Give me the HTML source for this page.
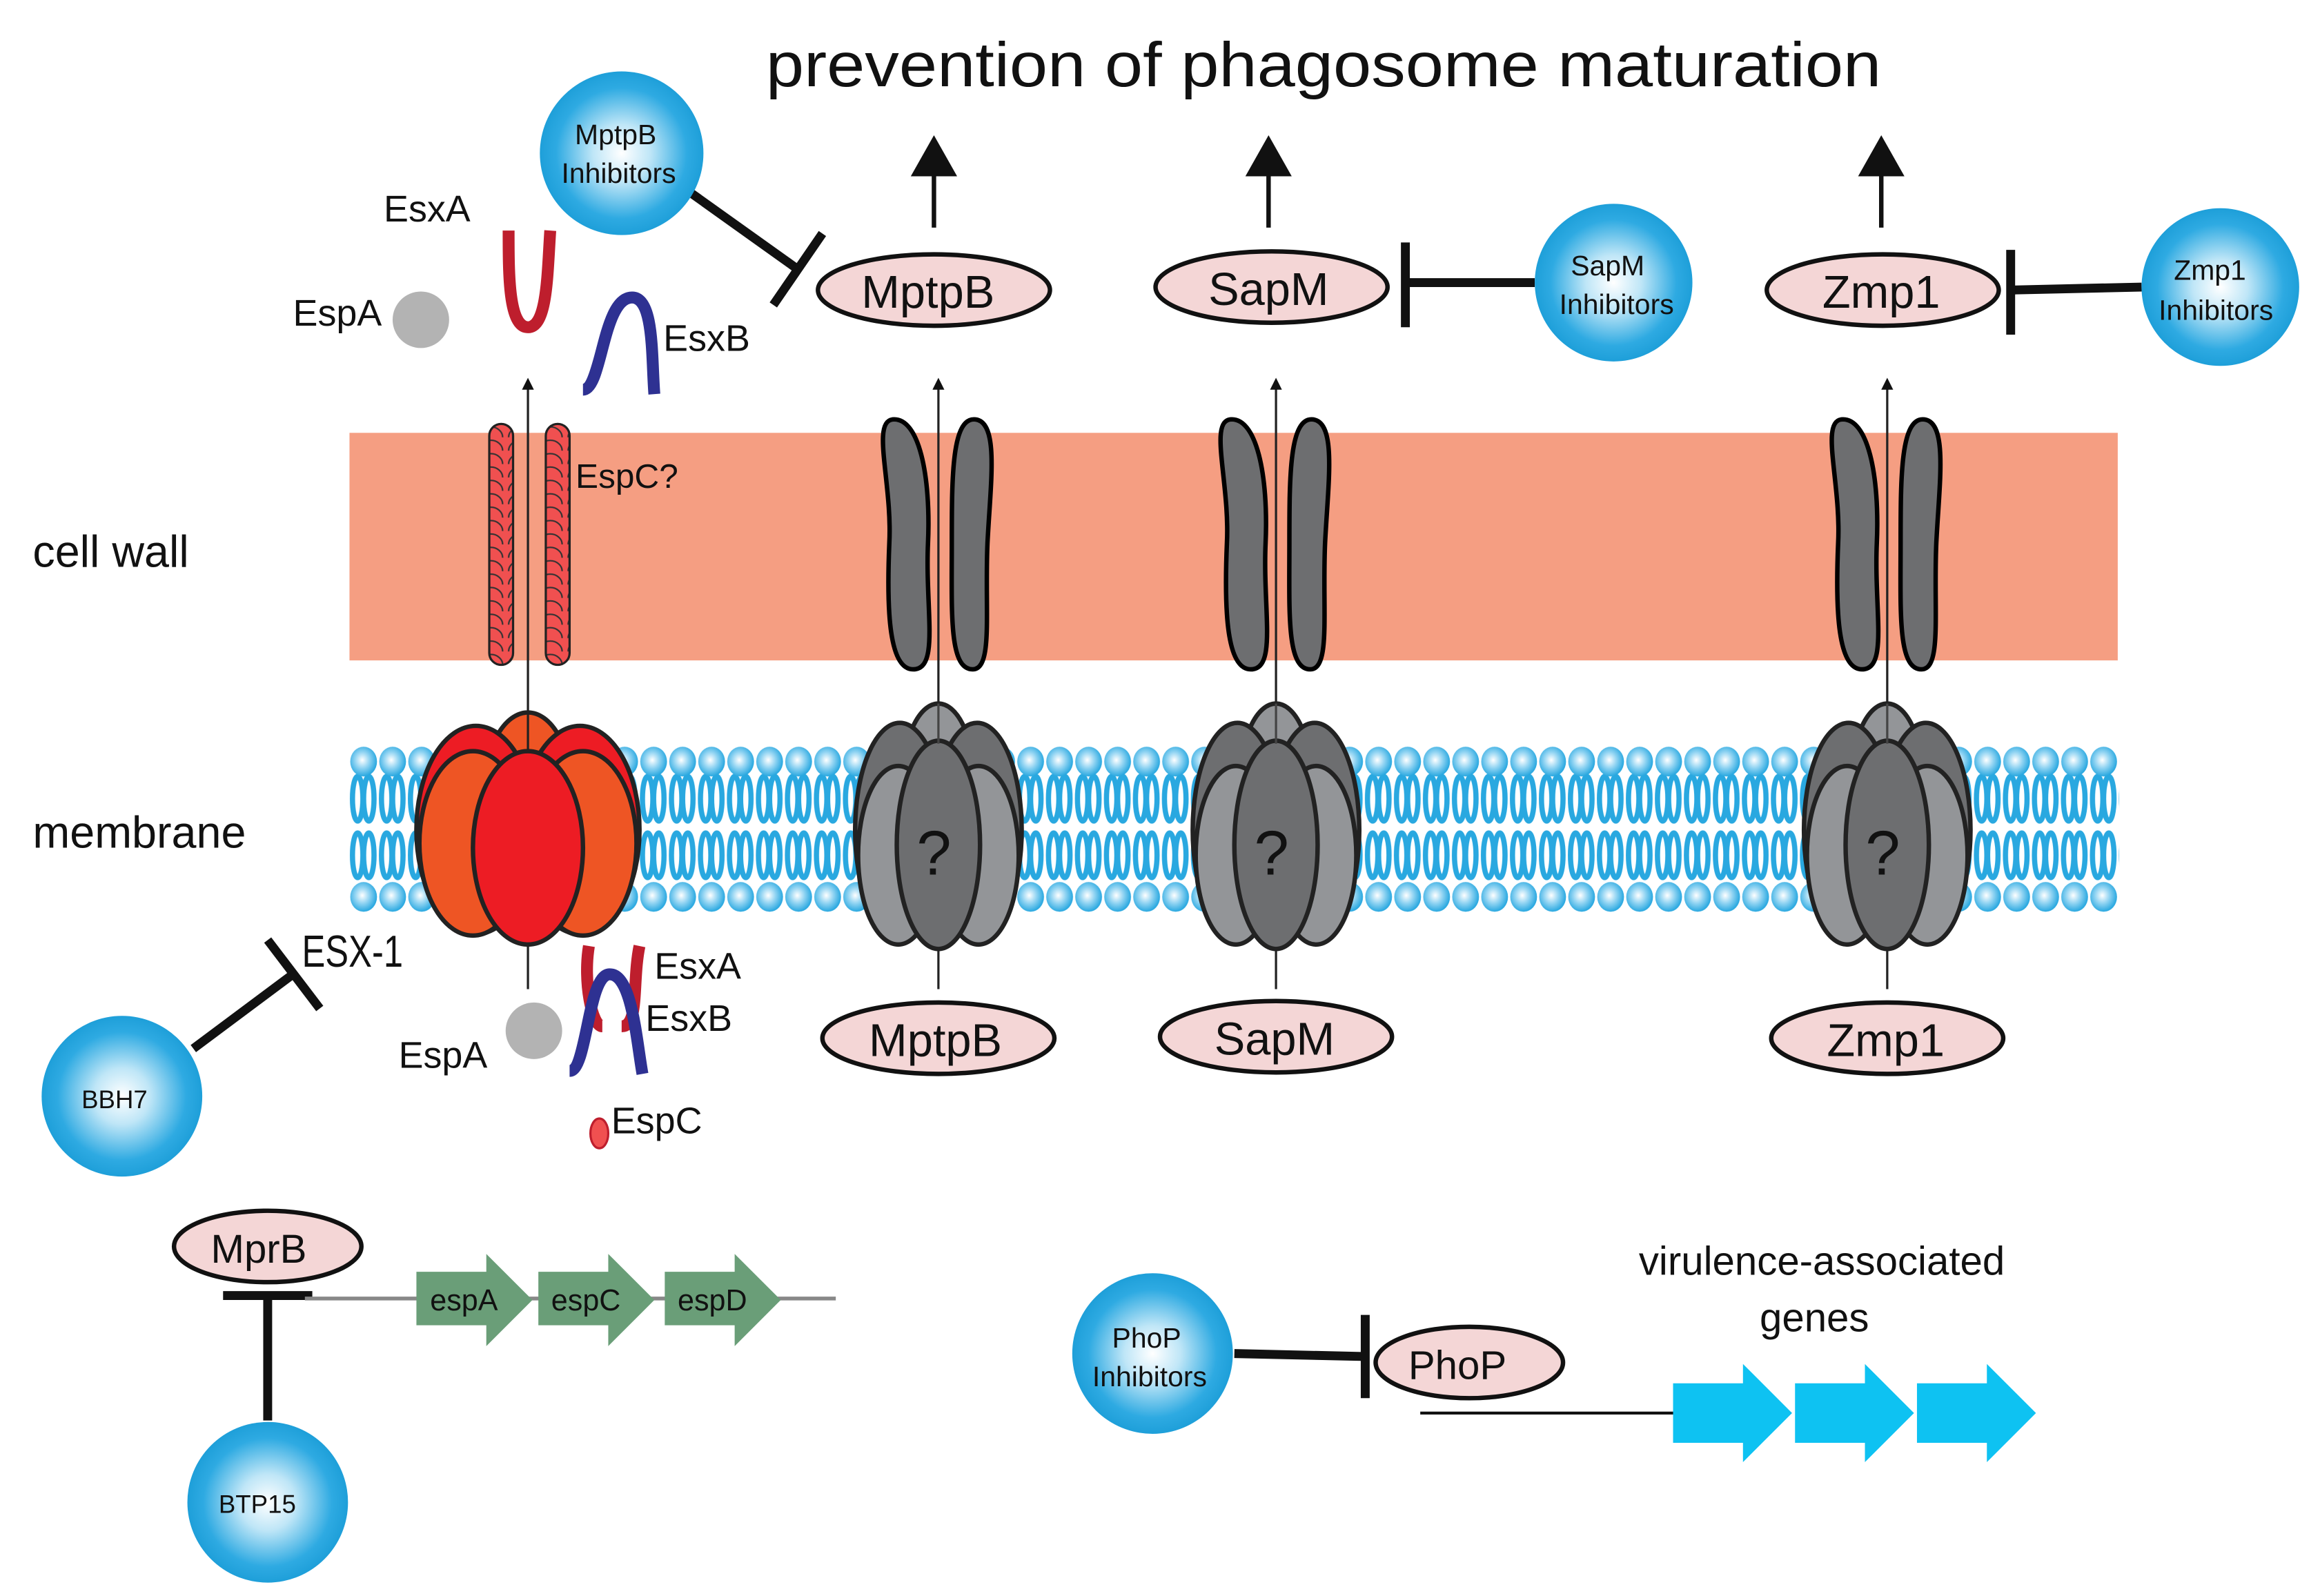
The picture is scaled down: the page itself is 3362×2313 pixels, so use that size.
<!DOCTYPE html>
<html><head><meta charset="utf-8"><style>
html,body{margin:0;padding:0;background:#fff}
svg{display:block}
text{font-family:"Liberation Sans",sans-serif;fill:#111}
</style></head><body>
<svg width="3362" height="2313" viewBox="0 0 1560 1073" preserveAspectRatio="none" xmlns="http://www.w3.org/2000/svg">
<defs>
<radialGradient id="ball" cx="0.5" cy="0.5" r="0.5">
<stop offset="0" stop-color="#ffffff"/><stop offset="0.35" stop-color="#bfe6f7"/><stop offset="0.8" stop-color="#2eaae2"/><stop offset="1" stop-color="#1e9fd9"/>
</radialGradient>
<radialGradient id="head" cx="0.45" cy="0.45" r="0.55">
<stop offset="0" stop-color="#ffffff"/><stop offset="0.5" stop-color="#8fd3f2"/><stop offset="1" stop-color="#29a8e0"/>
</radialGradient>
<pattern id="lipid" x="235" y="500" width="19.5" height="115" patternUnits="userSpaceOnUse">
<ellipse cx="5.5" cy="37" rx="3.5" ry="15" fill="none" stroke="#29a8e0" stroke-width="3.5"/>
<ellipse cx="13" cy="37" rx="3.5" ry="15" fill="none" stroke="#29a8e0" stroke-width="3.5"/>
<ellipse cx="5.5" cy="75" rx="3.5" ry="15" fill="none" stroke="#29a8e0" stroke-width="3.5"/>
<ellipse cx="13" cy="75" rx="3.5" ry="15" fill="none" stroke="#29a8e0" stroke-width="3.5"/>
<ellipse cx="9.5" cy="12" rx="9" ry="10" fill="url(#head)"/>
<ellipse cx="9.5" cy="103" rx="9" ry="10" fill="url(#head)"/>
</pattern>
<pattern id="espc" x="0" y="285" width="20" height="9" patternUnits="userSpaceOnUse">
<rect width="20" height="9" fill="#f05050"/>
<path d="M2 9 A8 7 0 0 1 18 9" fill="none" stroke="#333" stroke-width="1"/>
</pattern>
<marker id="ar" markerWidth="8" markerHeight="8" refX="4" refY="4" orient="auto" markerUnits="userSpaceOnUse">
<path d="M0 0 L8 4 L0 8 Z" fill="#111"/></marker>
<g id="chan">
<path d="M600 282 C618 280 626 320 624 365 C622 410 632 450 614 450 C598 450 596 412 598 365 C600 325 586 284 600 282 Z"/>
<path d="M656 282 C672 284 666 325 664 365 C662 410 668 450 654 450 C638 450 640 412 640 365 C640 320 640 280 656 282 Z"/>
</g>
</defs>

<text x="515" y="58" font-size="42" textLength="750" lengthAdjust="spacingAndGlyphs">prevention of phagosome maturation</text>

<rect x="235" y="291" width="1189" height="153" fill="#f59e82"/>
<rect x="235" y="500" width="1190" height="115" fill="url(#lipid)"/>

<text x="22" y="381" font-size="30">cell wall</text>
<text x="22" y="570" font-size="30">membrane</text>

<rect x="329" y="285" width="16" height="162" rx="8" fill="url(#espc)" stroke="#222" stroke-width="1.5"/>
<rect x="367" y="285" width="16" height="162" rx="8" fill="url(#espc)" stroke="#222" stroke-width="1.5"/>
<text x="387" y="328" font-size="23">EspC?</text>

<g fill="#6d6e70" stroke="#000" stroke-width="3">
<use href="#chan"/>
<use href="#chan" transform="translate(227,0)"/>
<use href="#chan" transform="translate(638,0)"/>
</g>

<g stroke="#222" stroke-width="1.5">
<line x1="355" y1="665" x2="355" y2="258" marker-end="url(#ar)"/>
<line x1="631" y1="665" x2="631" y2="258" marker-end="url(#ar)"/>
<line x1="858" y1="665" x2="858" y2="258" marker-end="url(#ar)"/>
<line x1="1269" y1="665" x2="1269" y2="258" marker-end="url(#ar)"/>
</g>

<g stroke="#222" stroke-width="3">
<ellipse cx="355" cy="535" rx="30" ry="56" fill="#ee5524"/>
<ellipse cx="320" cy="558" rx="40" ry="70" fill="#ed1c24"/>
<ellipse cx="390" cy="558" rx="40" ry="70" fill="#ed1c24"/>
<ellipse cx="318" cy="567" rx="36" ry="62" fill="#ee5524"/>
<ellipse cx="392" cy="567" rx="36" ry="62" fill="#ee5524"/>
<ellipse cx="355" cy="570" rx="37" ry="65" fill="#ed1c24"/>
</g>
<line x1="355" y1="478" x2="355" y2="505" stroke="#222" stroke-width="1.5"/>

<g id="gc" stroke="#222" stroke-width="3">
<ellipse cx="631" cy="525" rx="24" ry="52" fill="#939598"/>
<ellipse cx="605" cy="558" rx="30" ry="72" fill="#6d6e70"/>
<ellipse cx="657" cy="558" rx="30" ry="72" fill="#6d6e70"/>
<ellipse cx="604" cy="575" rx="27" ry="60" fill="#939598"/>
<ellipse cx="658" cy="575" rx="27" ry="60" fill="#939598"/>
<ellipse cx="631" cy="568" rx="28" ry="70" fill="#6d6e70"/>
</g>
<use href="#gc" transform="translate(227,0)"/>
<use href="#gc" transform="translate(638,0)"/>
<g stroke="#444" stroke-width="1.5">
<line x1="631" y1="473" x2="631" y2="500"/><line x1="858" y1="473" x2="858" y2="500"/><line x1="1269" y1="473" x2="1269" y2="500"/>
</g>
<g font-size="42" text-anchor="middle">
<text x="628" y="588">?</text><text x="855" y="588">?</text><text x="1266" y="588">?</text>
</g>

<g fill="#f4d6d6" stroke="#111" stroke-width="3">
<ellipse cx="628" cy="195" rx="78" ry="24"/>
<ellipse cx="855" cy="193" rx="78" ry="24"/>
<ellipse cx="1266" cy="195" rx="78" ry="24"/>
<ellipse cx="631" cy="698" rx="78" ry="24"/>
<ellipse cx="858" cy="697" rx="78" ry="24"/>
<ellipse cx="1269" cy="698" rx="78" ry="24"/>
<ellipse cx="180" cy="838" rx="63" ry="24"/>
<ellipse cx="988" cy="916" rx="63" ry="24"/>
</g>
<g font-size="31" text-anchor="middle">
<text x="624" y="207">MptpB</text><text x="853" y="205">SapM</text><text x="1265" y="207">Zmp1</text>
<text x="629" y="710">MptpB</text><text x="857" y="709">SapM</text><text x="1268" y="710">Zmp1</text>
<text x="174" y="849" font-size="27">MprB</text><text x="980" y="927" font-size="27">PhoP</text>
</g>

<g stroke="#111" stroke-width="3" fill="#111">
<line x1="628" y1="153" x2="628" y2="115"/><path d="M615 117 L628 94 L641 117 Z"/>
<line x1="853" y1="153" x2="853" y2="115"/><path d="M840 117 L853 94 L866 117 Z"/>
<line x1="1265" y1="153" x2="1265" y2="115"/><path d="M1252 117 L1265 94 L1278 117 Z"/>
</g>

<g stroke="#111" stroke-width="6" fill="none">
<line x1="465" y1="130" x2="535" y2="180"/><line x1="553" y1="157" x2="520" y2="205"/>
<line x1="1032" y1="190" x2="945" y2="190"/><line x1="945" y1="163" x2="945" y2="220"/>
<line x1="1440" y1="193" x2="1352" y2="195"/><line x1="1352" y1="168" x2="1352" y2="225"/>
<line x1="130" y1="705" x2="197" y2="655"/><line x1="180" y1="632" x2="215" y2="678"/>
<line x1="830" y1="910" x2="918" y2="912"/><line x1="918" y1="884" x2="918" y2="940"/>
<line x1="180" y1="955" x2="180" y2="872"/><line x1="150" y1="871" x2="210" y2="871"/>
</g>

<g fill="url(#ball)">
<circle cx="418" cy="103" r="55"/><circle cx="1085" cy="190" r="53"/><circle cx="1493" cy="193" r="53"/>
<circle cx="82" cy="737" r="54"/><circle cx="775" cy="910" r="54"/><circle cx="180" cy="1010" r="54"/>
</g>
<g font-size="19" text-anchor="middle">
<text x="414" y="97">MptpB</text><text x="416" y="123">Inhibitors</text>
<text x="1081" y="185">SapM</text><text x="1087" y="211">Inhibitors</text>
<text x="1486" y="188">Zmp1</text><text x="1490" y="215">Inhibitors</text>
<text x="77" y="745" font-size="17">BBH7</text>
<text x="771" y="906">PhoP</text><text x="773" y="932">Inhibitors</text>
<text x="173" y="1017" font-size="17">BTP15</text>
</g>

<path d="M342 155 C342 185 342 220 355 220 C368 220 368 185 370 155" fill="none" stroke="#be1e2d" stroke-width="8"/>
<path d="M392 262 C405 262 405 200 425 200 C440 200 438 240 440 265" fill="none" stroke="#2e3192" stroke-width="8"/>
<circle cx="283" cy="215" r="19" fill="#b3b3b3"/>
<text x="258" y="149" font-size="25">EsxA</text>
<text x="197" y="219" font-size="25">EspA</text>
<text x="446" y="236" font-size="25">EsxB</text>

<path d="M396 636 C392 660 398 690 405 690 M430 636 C425 660 430 690 418 690" fill="none" stroke="#be1e2d" stroke-width="8"/>
<path d="M383 720 C395 720 395 655 410 655 C425 655 428 700 432 722" fill="none" stroke="#2e3192" stroke-width="8"/>
<circle cx="359" cy="693" r="19" fill="#b3b3b3"/>
<ellipse cx="403" cy="762" rx="6" ry="10" fill="#f05050" stroke="#be1e2d" stroke-width="1.5"/>
<text x="203" y="650" font-size="30" textLength="68" lengthAdjust="spacingAndGlyphs">ESX-1</text>
<text x="440" y="658" font-size="25">EsxA</text>
<text x="434" y="693" font-size="25">EsxB</text>
<text x="268" y="718" font-size="25">EspA</text>
<text x="411" y="762" font-size="25">EspC</text>

<line x1="205" y1="873" x2="562" y2="873" stroke="#888" stroke-width="2.5"/>
<g fill="#6a9e78">
<path d="M280 855 H327 V843 L358 874 L327 905 V891 H280 Z"/>
<path d="M362 855 H409 V843 L440 874 L409 905 V891 H362 Z"/>
<path d="M447 855 H494 V843 L525 874 L494 905 V891 H447 Z"/>
</g>
<g font-size="20" text-anchor="middle"><text x="312" y="881">espA</text><text x="394" y="881">espC</text><text x="479" y="881">espD</text></g>

<line x1="955" y1="950" x2="1130" y2="950" stroke="#111" stroke-width="2"/>
<g fill="#0ec2f2">
<path d="M1125 930 H1172 V917 L1205 950 L1172 983 V970 H1125 Z"/>
<path d="M1207 930 H1254 V917 L1287 950 L1254 983 V970 H1207 Z"/>
<path d="M1289 930 H1336 V917 L1369 950 L1336 983 V970 H1289 Z"/>
</g>
<text x="1225" y="857" font-size="27" text-anchor="middle">virulence-associated</text>
<text x="1220" y="895" font-size="27" text-anchor="middle">genes</text>
</svg>
</body></html>
